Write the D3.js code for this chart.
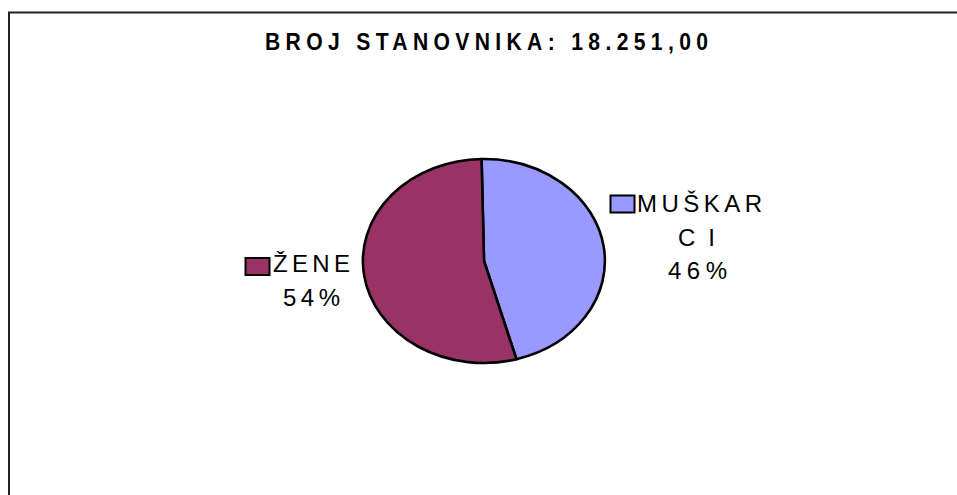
<!DOCTYPE html>
<html><head><meta charset="utf-8">
<script src="https://cdn.jsdelivr.net/npm/d3@7"></script>
<style>html,body{margin:0;padding:0;background:#fff;}svg{display:block;}</style>
</head><body>
<svg id="c" width="957" height="495"></svg>
<script>
const title = "BROJ STANOVNIKA: 18.251,00";
const categories = ["MUŠKARCI", "ŽENE"];
const values = [46, 54];
const percentLabels = ["46%", "54%"];
const labelLines = [["MUŠKAR", "CI", "46%"], ["ŽENE", "54%"]];
const colors = ["#9999FF", "#993366"];

const svg = d3.select("#c");
svg.append("rect").attr("x", 0).attr("y", 0).attr("width", 957).attr("height", 495).attr("fill", "#fff");
// frame
svg.append("path").attr("d", "M9,497 L9,12.5 L960,12.5").attr("fill", "none").attr("stroke", "#222").attr("stroke-width", 2);

const sx = 0.88;
svg.append("text").attr("transform", `translate(265,50) scale(${sx},1)`)
  .attr("x", 0).attr("y", 0)
  .attr("font-family", "'Liberation Sans',Arial,sans-serif")
  .attr("font-weight", "bold").attr("font-size", 24)
  .attr("textLength", 443 / sx).attr("lengthAdjust", "spacing")
  .text(title);

const cx = 484, cy = 261, rx = 121, ry = 102;
const pie = d3.pie().sort(null).value(d => d).startAngle(-0.02);
const arcs = pie(values);
const arc = d3.arc().innerRadius(0).outerRadius(1);
const g = svg.append("g").attr("transform", `translate(${cx},${cy}) scale(${rx},${ry})`);
g.selectAll("path").data(arcs).join("path")
  .attr("d", arc).attr("fill", (d, i) => colors[i])
  .attr("stroke", "#000").attr("stroke-width", 2.6)
  .attr("vector-effect", "non-scaling-stroke").attr("stroke-linejoin", "round");

// labels
const font = "'Liberation Sans',Arial,sans-serif";
const lineX = [[637, 678, 668], [273, 283]];
const lineW = [[125, 37, 59], [77, 57]];
const lineY0 = [212, 272];
const boxes = [[610.5, 195.5], [245.5, 258]];
labelLines.forEach((lines, i) => {
  svg.append("rect").attr("x", boxes[i][0]).attr("y", boxes[i][1]).attr("width", 24).attr("height", 17)
    .attr("fill", colors[i]).attr("stroke", "#000").attr("stroke-width", 2);
  lines.forEach((l, j) => {
    svg.append("text").attr("font-family", font).attr("font-size", 24)
      .attr("x", lineX[i][j]).attr("y", lineY0[i] + j * 33.5)
      .attr("textLength", lineW[i][j]).attr("lengthAdjust", "spacing")
      .attr("fill", "#000").text(l);
  });
});
</script>
</body></html>
